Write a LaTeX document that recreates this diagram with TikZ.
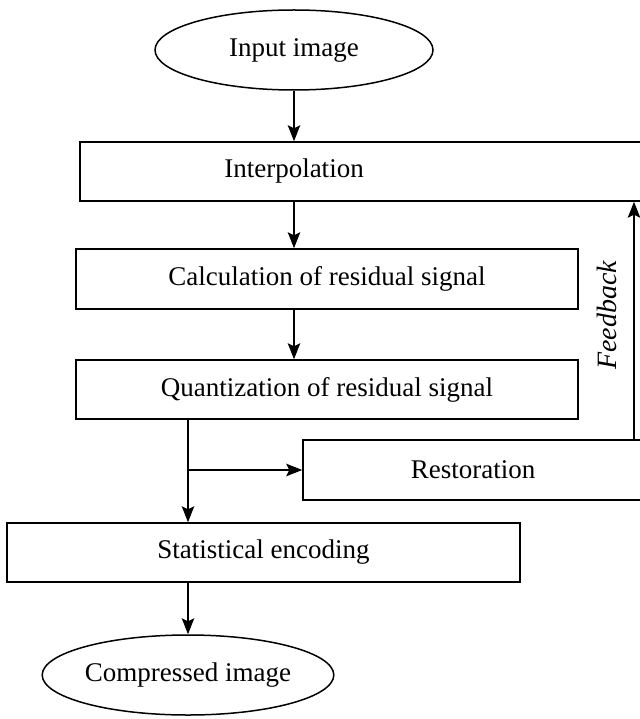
\documentclass[tikz,border=0pt]{standalone}
\usepackage{fontspec}
\setmainfont{Liberation Serif}
\usetikzlibrary{shapes.geometric,arrows.meta}

\begin{document}
\begin{tikzpicture}[x=1pt, y=-1pt,
  every node/.style={font=\fontsize{27}{32}\selectfont, inner sep=0pt},
  stepbox/.style={draw, line width=1.5pt, rectangle},
  terminal/.style={draw, line width=1.5pt, ellipse},
  flow/.style={line width=1.4pt, -{Stealth[length=16pt, width=12.5pt, inset=3pt]}},
  plain/.style={line width=1.4pt}]
  \useasboundingbox (0,0) rectangle (639,719);

  % terminals
  \node[terminal, minimum width=278pt, minimum height=80pt] (input) at (294,50) {Input image};
  \node[terminal, minimum width=282pt, minimum height=80pt] (output) at (188,675) {Compressed image};

  % processing steps
  \node[stepbox, minimum width=562pt, minimum height=59pt] (interp) at (361,171.5) {};
  \node (interptext) at (294,171.5) {Interpolation};
  \node[stepbox, minimum width=502pt, minimum height=60pt] (calc) at (327,279) {Calculation of residual signal};
  \node[stepbox, minimum width=502pt, minimum height=59pt] (quant) at (327,389.5) {Quantization of residual signal};
  \node[stepbox, minimum width=340pt, minimum height=60pt] (rest) at (473,470) {Restoration};
  \node[stepbox, minimum width=513pt, minimum height=59pt] (stat) at (263.5,552.5) {Statistical encoding};

  % helper points
  \coordinate (col) at (294,0);
  \coordinate (split) at (188,470);
  \coordinate (fb) at (634,0);

  % main flow
  \draw[flow] (input.south -| col) -- (interp.north -| col);
  \draw[flow] (interp.south -| col) -- (calc.north -| col);
  \draw[flow] (calc.south -| col) -- (quant.north -| col);
  \draw[flow] (quant.south -| split) -- (stat.north -| split);
  \draw[flow] (split) -- (rest.west);
  \draw[flow] (stat.south -| output) -- (output.north);

  % feedback loop
  \draw[flow] (rest.north -| fb) -- (interp.south -| fb);
  \node[rotate=90, font=\fontsize{28}{32}\selectfont\itshape] (fblabel) at (607,315.5) {Feedback};
\end{tikzpicture}
\end{document}
